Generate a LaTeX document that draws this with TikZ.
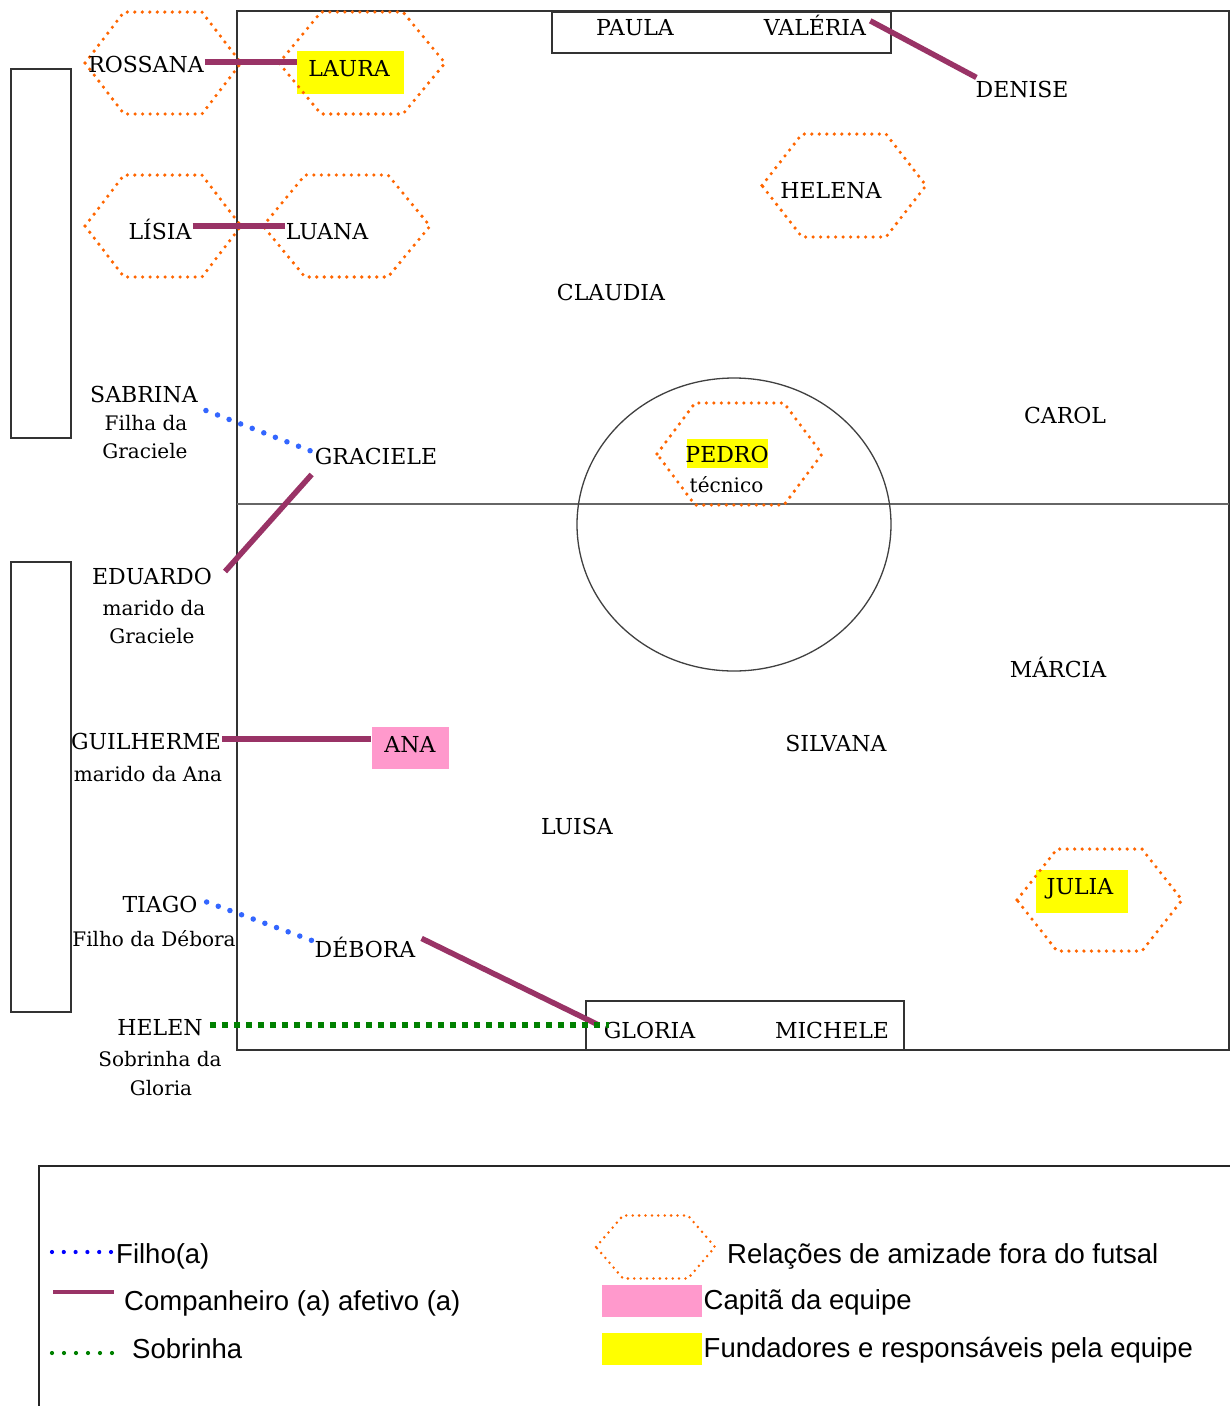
\documentclass[tikz,border=0pt]{standalone}
\usepackage{fontspec}
\setmainfont{DejaVu Serif}
\newfontfamily\legfont{Liberation Sans}
\definecolor{partner}{HTML}{993366}
\definecolor{childblue}{HTML}{3366FF}
\definecolor{legblue}{HTML}{0000FF}
\definecolor{niecegreen}{HTML}{008000}
\definecolor{friend}{HTML}{FF6600}
\definecolor{hlyellow}{HTML}{FFFF00}
\definecolor{hlpink}{HTML}{FF99CC}
\newcommand{\hexshape}[6][hexline]{%
  \draw[#1] ({#2-#4},#3) -- ({#2-#4+#6},{#3-#5}) -- ({#2+#4-#6},{#3-#5}) -- ({#2+#4},#3)
    -- ({#2+#4-#6},{#3+#5}) -- ({#2-#4+#6},{#3+#5}) -- cycle;}
\begin{document}
\begin{tikzpicture}[x=1pt,y=-1pt,
  fieldline/.style={draw=black!80, line width=1.6pt},
  midline/.style={draw=black!60, line width=2pt},
  hexline/.style={draw=friend, line width=3.6pt, line cap=round, dash pattern=on 0pt off 7.5pt},
  hexsmall/.style={draw=friend, line width=2.8pt, line cap=round, dash pattern=on 0pt off 6.4pt},
  lbl/.style={font=\fontsize{22}{26}\selectfont, inner sep=1pt, anchor=base},
  sub/.style={font=\fontsize{20}{24}\selectfont, inner sep=1pt, anchor=base},
  hl/.style={fill=#1, draw=none, inner sep=0pt},
  partnerline/.style={draw=partner, line width=5.5pt},
  childline/.style={draw=childblue, line width=5.5pt, line cap=round, dash pattern=on 0pt off 12.4pt},
  nieceline/.style={draw=niecegreen, line width=6pt, dash pattern=on 6pt off 6pt},
  leg/.style={font=\legfont\fontsize{27.5}{32}\selectfont, anchor=base west, inner sep=0pt},
  legchild/.style={draw=legblue, line width=4.2pt, line cap=round, dash pattern=on 0pt off 11.8pt},
  legniece/.style={draw=niecegreen, line width=4.2pt, line cap=round, dash pattern=on 0pt off 12pt},
  legpartner/.style={draw=partner, line width=4pt}
]
\useasboundingbox (0,0) rectangle (1230,1406);
\fill[white] (0,0) rectangle (1230,1406);

% benches
\draw[fieldline] (11,69) rectangle (71,438);
\draw[fieldline] (11,562) rectangle (71,1012);
% field
\draw[fieldline] (237,11) rectangle (1229,1050);
\draw[midline] (237,504) -- (1229,504);
\draw[draw=black!75, line width=1.3pt] (734,524.5) ellipse [x radius=157, y radius=146.5];
\draw[fieldline] (552,12) rectangle (891,53);
\draw[fieldline] (586,1001) rectangle (904,1050);

% highlight boxes
\node[hl=hlyellow, minimum width=107pt, minimum height=43pt] (laurabg) at (350.5,72.5) {};
\node[hl=hlyellow, minimum width=81pt, minimum height=29pt] (pedrobg) at (727,453.5) {};
\node[hl=hlpink, minimum width=77pt, minimum height=42pt] (anabg) at (410,748) {};
\node[hl=hlyellow, minimum width=92pt, minimum height=43pt] (juliabg) at (1082,891.5) {};

% friendship hexagons
\hexshape{163}{63}{78}{51}{39}
\hexshape{362}{63}{83}{51}{42}
\hexshape{163}{226}{78}{51}{39}
\hexshape{346.5}{226}{83.5}{51}{42}
\hexshape{844}{185.5}{82}{51.5}{40}
\hexshape{739.5}{454}{82.5}{51}{38}
\hexshape{1099.5}{900}{82.5}{51}{40}

% names
\node[lbl] (rossana) at (146,72) {ROSSANA};
\node[lbl] (laura) at (349,76) {LAURA};
\node[lbl] (lisia) at (160,239) {LÍSIA};
\node[lbl] (luana) at (327,239) {LUANA};
\node[lbl] (paula) at (635,35) {PAULA};
\node[lbl] (valeria) at (815,35) {VALÉRIA};
\node[lbl] (denise) at (1022,97) {DENISE};
\node[lbl] (helena) at (831,198) {HELENA};
\node[lbl] (claudia) at (611,300) {CLAUDIA};
\node[lbl] (carol) at (1065,423) {CAROL};
\node[lbl] (sabrina) at (144,402) {SABRINA};
\node[sub] (sabrina2) at (146,430) {Filha da};
\node[sub] (sabrina3) at (145,458) {Graciele};
\node[lbl] (graciele) at (376,464) {GRACIELE};
\node[lbl] (pedro) at (727,462) {PEDRO};
\node[sub] (tecnico) at (726.5,492) {técnico};
\node[lbl] (eduardo) at (152,584) {EDUARDO};
\node[sub] (eduardo2) at (154,615) {marido da};
\node[sub] (eduardo3) at (152,643) {Graciele};
\node[lbl] (marcia) at (1058,677) {MÁRCIA};
\node[lbl] (guilherme) at (146,749) {GUILHERME};
\node[sub] (guilherme2) at (148,781) {marido da Ana};
\node[lbl] (ana) at (410,752) {ANA};
\node[lbl] (silvana) at (836,751) {SILVANA};
\node[lbl] (luisa) at (577,834) {LUISA};
\node[lbl] (julia) at (1080,894) {JULIA};
\node[lbl] (tiago) at (160,912) {TIAGO};
\node[sub] (tiago2) at (154,946) {Filho da Débora};
\node[lbl] (debora) at (365,957) {DÉBORA};
\node[lbl] (helen) at (160,1035) {HELEN};
\node[sub] (helen2) at (160,1066) {Sobrinha da};
\node[sub] (helen3) at (161,1095) {Gloria};
\node[lbl] (gloria) at (649.5,1038) {GLORIA};
\node[lbl] (michele) at (832,1038) {MICHELE};

% relations
\draw[partnerline] ([yshift=2pt]rossana.east) -- ([yshift=2pt]rossana.east -| laurabg.west);
\draw[partnerline] ([yshift=3pt]lisia.east) -- ([yshift=3pt]lisia.east -| luana.west);
\draw[partnerline] ([shift={(3pt,4pt)}]valeria.east) -- ([shift={(2pt,2pt)}]denise.north west);
\draw[childline] ([shift={(7pt,-7pt)}]sabrina.south east) -- ([shift={(1pt,-6pt)}]graciele.north west);
\draw[partnerline] ([shift={(-2pt,-9pt)}]graciele.south west) -- ([shift={(12pt,-5pt)}]eduardo.north east);
\draw[partnerline] ([yshift=2pt]guilherme.east) -- ([yshift=2pt]guilherme.east -| anabg.west);
\draw[childline] ([shift={(8pt,2pt)}]tiago.east) -- ([shift={(1pt,-6pt)}]debora.north west);
\draw[partnerline] ([shift={(5pt,-3pt)}]debora.north east) -- ([shift={(-4pt,5pt)}]gloria.west);
\draw[nieceline] ([shift={(6pt,2pt)}]helen.east) -- ([shift={(6pt,2pt)}]helen.east -| gloria.west);

% legend
\draw[draw=black!85, line width=2.4pt] (1230,1166) -- (39,1166) -- (39,1406);
\coordinate (lc1) at (52,1252); \coordinate (lc2) at (111,1252);
\draw[legchild] (lc1) -- (lc2);
\node[leg] (lfilho) at (116,1263) {Filho(a)};
\coordinate (lp1) at (53,1292); \coordinate (lp2) at (114,1292);
\draw[legpartner] (lp1) -- (lp2);
\node[leg] (lcomp) at (124,1310) {Companheiro (a) afetivo (a)};
\coordinate (ln1) at (52,1353); \coordinate (ln2) at (112,1353);
\draw[legniece] (ln1) -- (ln2);
\node[leg] (lsob) at (132,1358) {Sobrinha};
\hexshape[hexsmall]{655.5}{1247}{59.5}{31.5}{27}
\node[leg] (lrel) at (727,1263) {Relações de amizade fora do futsal};
\node[hl=hlpink, minimum width=100pt, minimum height=32pt] (lpink) at (652,1301) {};
\node[leg] (lcap) at (703.5,1309) {Capitã da equipe};
\node[hl=hlyellow, minimum width=100pt, minimum height=32pt] (lyellow) at (652,1349) {};
\node[leg] (lfund) at (703.5,1357) {Fundadores e responsáveis pela equipe};
\end{tikzpicture}
\end{document}
